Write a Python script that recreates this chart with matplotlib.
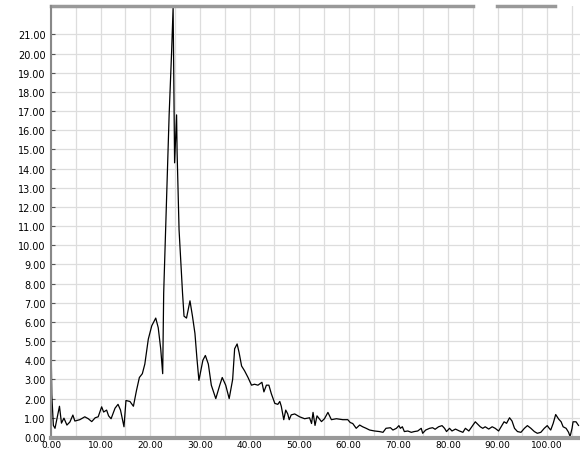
import numpy as np
import matplotlib
matplotlib.use('Agg')
import matplotlib.pyplot as plt

# Values
x_vals = [0.0, 0.15, 0.47, 0.8, 1.7, 2.1, 2.6, 3.2, 3.8, 4.4, 4.8, 5.8, 6.8, 7.5, 8.2, 8.9,
          9.5, 10.2, 10.6, 11.2, 11.6, 12.1, 12.9, 13.5, 14.0, 14.7, 15.1, 15.9, 16.6, 17.2,
          17.8, 18.4, 18.9, 19.6, 20.3, 21.1, 21.6, 22.1, 22.5, 22.7, 23.3, 23.8, 24.3, 24.6,
          24.9, 25.3, 25.4, 25.8, 26.5, 26.8, 27.3, 28.0, 28.5, 29.0, 29.4, 29.8, 30.6, 31.1,
          31.7, 32.3, 33.2, 34.0, 34.5, 35.2, 35.9, 36.6, 37.0, 37.5, 37.9, 38.4, 39.0, 39.7,
          40.4, 41.0, 41.7, 42.5, 42.9, 43.4, 43.9, 44.4, 45.1, 45.7, 46.1, 46.4, 46.9, 47.3,
          47.7, 48.0, 48.4, 49.1, 50.1, 51.1, 52.1, 52.5, 52.8, 53.2, 53.6, 54.5, 55.1, 55.8,
          56.5, 57.5, 58.8, 59.8, 60.3, 60.8, 61.5, 62.2, 62.8, 63.5, 64.2, 65.2, 66.2, 66.9,
          67.5, 68.4, 68.9, 69.6, 70.1, 70.4, 70.8, 71.2, 71.9, 72.6, 73.2, 73.9, 74.6, 74.9,
          75.5, 76.3, 76.9, 77.4, 78.1, 78.8, 79.3, 79.7, 80.3, 80.8, 81.5, 82.3, 83.0, 83.5,
          84.2, 84.8, 85.5, 86.0, 86.5, 87.0, 87.5, 88.2, 88.9, 89.5, 90.2, 90.9, 91.3, 91.8,
          92.4, 92.9, 93.4, 94.0, 94.7, 95.4, 96.0, 96.7, 97.4, 98.0, 98.7, 99.4, 100.0, 100.4,
          100.7, 101.2, 101.7, 102.3, 102.8, 103.2, 103.8, 104.3, 104.6, 105.0, 105.2, 105.8,
          106.3]
y_vals = [4.9, 2.2, 0.6, 0.45, 1.6, 0.72, 0.98, 0.62, 0.78, 1.14, 0.83, 0.9, 1.05, 0.95, 0.8, 1.0,
          1.05, 1.57, 1.3, 1.4, 1.1, 0.95, 1.5, 1.7, 1.4, 0.53, 1.9, 1.85, 1.6, 2.4,
          3.1, 3.3, 3.8, 5.1, 5.8, 6.2, 5.7, 4.6, 3.3, 7.5, 12.5, 16.8, 20.1, 22.4,
          14.3, 16.8, 14.9, 10.8, 7.5, 6.3, 6.2, 7.1, 6.3, 5.4, 4.1, 2.95, 4.0, 4.25,
          3.8, 2.7, 2.0, 2.7, 3.1, 2.7, 2.0, 3.0, 4.6, 4.85, 4.4, 3.7, 3.45, 3.1,
          2.7, 2.75, 2.7, 2.85, 2.35, 2.7, 2.7, 2.25, 1.75, 1.7, 1.85, 1.6, 0.9, 1.4,
          1.2, 0.9, 1.15, 1.2, 1.05, 0.95, 1.0, 0.7, 1.28, 0.6, 1.1, 0.8, 0.95, 1.28,
          0.9, 0.95, 0.9, 0.9, 0.75, 0.7, 0.45, 0.62, 0.53, 0.45, 0.36, 0.31, 0.28, 0.24,
          0.45, 0.48, 0.36, 0.45, 0.59, 0.45, 0.53, 0.28, 0.31, 0.24, 0.28, 0.31, 0.45, 0.19,
          0.36, 0.45, 0.48, 0.4, 0.53, 0.59, 0.45, 0.28, 0.45, 0.31, 0.41, 0.31, 0.24, 0.45,
          0.31, 0.53, 0.79, 0.66, 0.53, 0.45, 0.53, 0.41, 0.53, 0.45, 0.31, 0.62, 0.79, 0.71,
          1.0, 0.83, 0.45, 0.28, 0.24, 0.45, 0.59, 0.45, 0.28, 0.19, 0.24, 0.45, 0.59, 0.45,
          0.36, 0.71, 1.17, 0.93, 0.79, 0.53, 0.45, 0.24, 0.02, 0.45, 0.79, 0.79,
          0.6]

x_ticks = np.arange(0, 101, 10)
x_labels = [f'{v:.2f}' for v in x_ticks]
y_ticks = np.arange(0, 22, 1)
y_labels = [f'{v:.2f}' for v in y_ticks]

fig = plt.figure(figsize=(5.8, 4.52), dpi=100)
# bottom kept just high enough for the x labels to fit in the picture
ax = fig.add_axes([0.088, 0.029, 0.912, 0.9555])

ax.plot(x_vals, y_vals, color='black', linewidth=0.9)

ax.set_xlim(0, 106.6)
ax.set_ylim(-0.05, 22.48)

ax.set_xticks(x_ticks)
ax.set_xticklabels(x_labels)
ax.set_xticks(np.arange(5, 106, 10), minor=True)
ax.set_yticks(y_ticks)
ax.set_yticklabels(y_labels)

ax.tick_params(axis='both', labelsize=7, colors='#555555', labelcolor='black')
ax.tick_params(axis='y', direction='in', length=3, pad=4)
ax.tick_params(axis='x', direction='in', length=0, pad=1.5, labelsize=6.5)
ax.tick_params(axis='x', which='minor', length=0)

ax.grid(True, which='both', color='#dddddd', linewidth=0.9)
ax.set_axisbelow(True)

# gray frame, top border drawn in two pieces as in the original
for side in ['right', 'top']:
    ax.spines[side].set_visible(False)
ax.spines['left'].set_color('#888888')
ax.spines['left'].set_linewidth(1.5)
ax.spines['bottom'].set_color('#999999')
ax.spines['bottom'].set_linewidth(3)
ax.plot([0, 0.798], [1, 1], transform=ax.transAxes, color='#999999', lw=2.5, clip_on=False)
ax.plot([0.843, 0.953], [1, 1], transform=ax.transAxes, color='#999999', lw=2.5, clip_on=False)

fig.savefig('out.png', dpi=100)
